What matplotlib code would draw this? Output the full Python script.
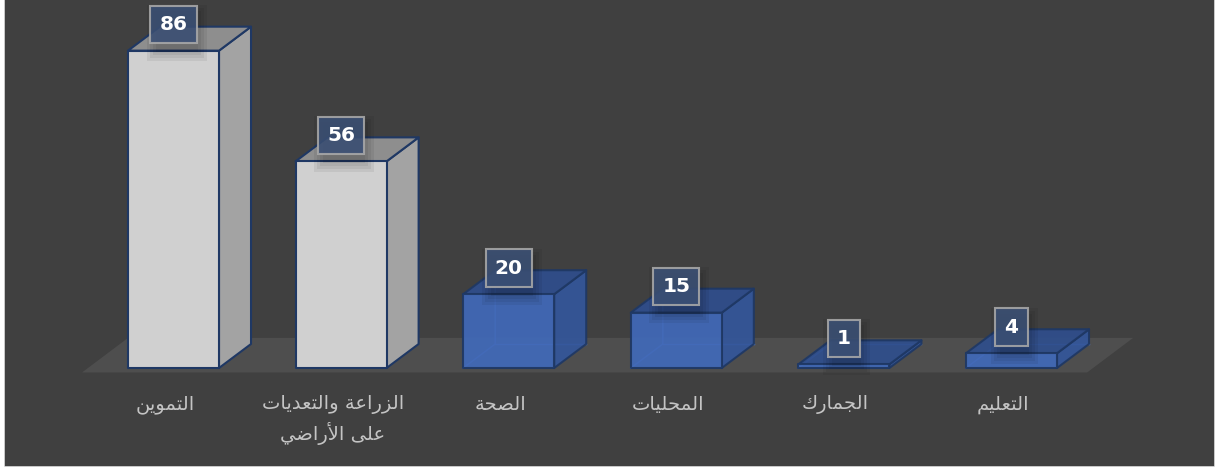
"""Recreação de um gráfico de colunas 3D (estilo Excel) em fundo escuro."""

import matplotlib

matplotlib.use("Agg")
import matplotlib.pyplot as plt  # noqa: E402
from matplotlib.lines import Line2D  # noqa: E402
from matplotlib.patches import Polygon, Rectangle  # noqa: E402

# Dados
categories = [
    "التموين",
    "الزراعة والتعديات\nعلى الأراضي",
    "الصحة",
    "المحليات",
    "الجمارك",
    "التعليم",
]
values = [86, 56, 20, 15, 1, 4]

# Estilos (cores por barra: duas primeiras em cinza, restantes em azul)
GRAY = dict(front="#d0d0d0", side="#a3a3a3", top="#8e8e8e", hidden=None)
BLUE = dict(front="#4169b8", side="#34569a", top="#2f4e8c", hidden="#557bc4")
bar_styles = [GRAY, GRAY, BLUE, BLUE, BLUE, BLUE]
EDGE = "#1f3864"
BG = "#404040"
FLOOR = "#4e4e4e"

# Escala de pixels -> unidades de dados
PX_X = 167.6   # pixels por categoria
PX_Y = 3.69    # pixels por unidade de valor

# Geometria (em unidades de dados)
W = 0.543      # largura da face frontal
DX = 0.191     # profundidade horizontal
DY = 6.5       # profundidade vertical
FLOOR_FRONT = -1.2
FLOOR_DX = 0.274
FLOOR_DY = 9.35
FLOOR_EXTRA = 0.454
LABEL_OFF = 7.1

# --- formas contextuais árabes (matplotlib não faz shaping) ---
FORMS = {
    "\u0627": ("\ufe8d", "\ufe8e", None, None),
    "\u0623": ("\ufe83", "\ufe84", None, None),
    "\u0629": ("\ufe93", "\ufe94", None, None),
    "\u062a": ("\ufe95", "\ufe96", "\ufe97", "\ufe98"),
    "\u062c": ("\ufe9d", "\ufe9e", "\ufe9f", "\ufea0"),
    "\u062d": ("\ufea1", "\ufea2", "\ufea3", "\ufea4"),
    "\u062f": ("\ufea9", "\ufeaa", None, None),
    "\u0631": ("\ufead", "\ufeae", None, None),
    "\u0632": ("\ufeaf", "\ufeb0", None, None),
    "\u0635": ("\ufeb9", "\ufeba", "\ufebb", "\ufebc"),
    "\u0636": ("\ufebd", "\ufebe", "\ufebf", "\ufec0"),
    "\u0639": ("\ufec9", "\ufeca", "\ufecb", "\ufecc"),
    "\u0643": ("\ufed9", "\ufeda", "\ufedb", "\ufedc"),
    "\u0644": ("\ufedd", "\ufede", "\ufedf", "\ufee0"),
    "\u0645": ("\ufee1", "\ufee2", "\ufee3", "\ufee4"),
    "\u0646": ("\ufee5", "\ufee6", "\ufee7", "\ufee8"),
    "\u0648": ("\ufeed", "\ufeee", None, None),
    "\u0649": ("\ufeef", "\ufef0", None, None),
    "\u064a": ("\ufef1", "\ufef2", "\ufef3", "\ufef4"),
}
LAM_ALEF = {"\u0627": ("\ufefb", "\ufefc"), "\u0623": ("\ufef7", "\ufef8")}


def joins_next(ch):
    f = FORMS.get(ch)
    return f is not None and f[2] is not None


def shape_line(text):
    out = []
    i = 0
    n = len(text)
    while i < n:
        ch = text[i]
        prev = text[i - 1] if i > 0 else ""
        prev_j = joins_next(prev)
        if ch == "\u0644" and i + 1 < n and text[i + 1] in LAM_ALEF:
            iso, fin = LAM_ALEF[text[i + 1]]
            out.append(fin if prev_j else iso)
            i += 2
            continue
        f = FORMS.get(ch)
        if f is None:
            out.append(ch)
            i += 1
            continue
        nxt = text[i + 1] if i + 1 < n else ""
        next_j = f[2] is not None and nxt in FORMS
        if prev_j and next_j:
            out.append(f[3])
        elif prev_j:
            out.append(f[1])
        elif next_j:
            out.append(f[2])
        else:
            out.append(f[0])
        i += 1
    return "".join(out)[::-1]


def shape(text):
    return "\n".join(shape_line(line) for line in text.split("\n"))


fig = plt.figure(figsize=(12.15, 4.68), dpi=100, facecolor="white")
# área do gráfico (sem borda superior)
L, R, B = 4.5 / 1215, 1214 / 1215, 2 / 468
fig.patches.append(Rectangle((L, B), R - L, 1 - B, transform=fig.transFigure,
                             facecolor=BG, edgecolor="none", zorder=-1))
fig.lines.append(Line2D([L, L, R, R], [1, B, B, 1], transform=fig.transFigure,
                        color="#bdbdbd", lw=1.2, zorder=-1))
ax = fig.add_axes([0, 0, 1, 1])
ax.set_axis_off()
ax.patch.set_alpha(0)
ax.set_xlim(-173.5 / PX_X, (1215 - 173.5) / PX_X)
ax.set_ylim(-100 / PX_Y, 368 / PX_Y)

n = len(values)
# chão
x0, x1 = -W / 2, (n - 1) + W / 2
floor = Polygon([(x0 - FLOOR_DX, FLOOR_FRONT),
                 (x0, FLOOR_FRONT + FLOOR_DY),
                 (x1 + FLOOR_EXTRA, FLOOR_FRONT + FLOOR_DY),
                 (x1 + FLOOR_EXTRA - FLOOR_DX, FLOOR_FRONT)],
                closed=True, facecolor=FLOOR, edgecolor="none", zorder=1)
ax.add_patch(floor)

for i, (v, st) in enumerate(zip(values, bar_styles)):
    l, r = i - W / 2, i + W / 2
    # arestas ocultas (barras translúcidas)
    if st["hidden"]:
        ax.plot([l, l + DX, l + DX], [0, DY, v + DY], color=st["hidden"],
                lw=1, zorder=2)
        ax.plot([l + DX, r + DX], [DY, DY], color=st["hidden"], lw=1, zorder=2)
    alpha = 0.93 if st["hidden"] else 1.0
    ax.add_patch(Polygon([(r, 0), (r + DX, DY), (r + DX, v + DY), (r, v)],
                         closed=True, facecolor=st["side"], edgecolor=EDGE,
                         lw=1.5, alpha=alpha, zorder=3, joinstyle="round"))
    ax.add_patch(Polygon([(l, v), (l + DX, v + DY), (r + DX, v + DY), (r, v)],
                         closed=True, facecolor=st["top"], edgecolor=EDGE,
                         lw=1.5, alpha=alpha, zorder=3, joinstyle="round"))
    ax.add_patch(Rectangle((l, 0), W, v, facecolor=st["front"], edgecolor=EDGE,
                           lw=1.5, alpha=alpha, zorder=4, joinstyle="round"))

    # sombra suave do rótulo (retângulos translúcidos)
    bw = (16 + 13 * len(str(v))) / PX_X
    bh = 38 / PX_Y
    cx, cy = i + 3 / PX_X, v + LABEL_OFF - 9 / PX_Y
    for k in range(4):
        gx, gy = k * 3 / PX_X, k * 3 / PX_Y
        ax.add_patch(Rectangle((cx - bw / 2 - gx, cy - bh / 2 - gy),
                               bw + 2 * gx, bh + 2 * gy, facecolor="black",
                               edgecolor="none", alpha=0.06, zorder=5))
    ax.text(i, v + LABEL_OFF, str(v), ha="center", va="center",
            fontsize=14.5, fontweight="bold", color="white", zorder=6,
            bbox=dict(boxstyle="square,pad=0.45", fc="#3b5075", ec="#a9a9a9",
                      lw=1.5, alpha=0.88))

    ax.text(i - 0.05, -7.4, shape(categories[i]), ha="center", va="top",
            fontsize=14, color="#c4c4c4", linespacing=1.4, zorder=6,
            family=["DejaVu Sans"])

fig.savefig("out.png", dpi=100, facecolor=fig.get_facecolor())
